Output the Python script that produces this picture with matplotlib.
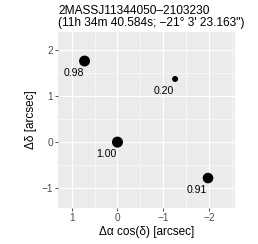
import numpy as np
import matplotlib
matplotlib.use('Agg')
import matplotlib.pyplot as plt
from matplotlib.ticker import MultipleLocator, FixedLocator

# offsets relative to the target, arcsec
dra = [0.72, 0.0, -1.26, -1.98]
ddec = [1.76, 0.0, 1.37, -0.78]
prob = [0.98, 1.00, 0.20, 0.91]
labels = ['0.98', '1.00', '0.20', '0.91']

title = '2MASSJ11344050\u20132103230\n(11h 34m 40.584s; \u221221\u00b0 3\' 23.163")'

plt.rcParams['font.family'] = ['Liberation Sans', 'DejaVu Sans']

fig = plt.figure(figsize=(2.58, 2.44), dpi=100)
ax = fig.add_axes([58/258, 36/244, 177/258, 176/244])
ax.set_facecolor('#EBEBEB')

# point size grows with probability
sizes = [7.5 + 55.5*p for p in prob]
ax.scatter(dra, ddec, s=sizes, color='black', zorder=3, linewidths=0)
for x, y, t in zip(dra, ddec, labels):
    ax.annotate(t, (x, y), xytext=(-8, -8.3), textcoords='offset points',
                ha='center', va='center', fontsize=7.6, color='black', zorder=4)

ax.set_xlim(1.30, -2.57)
ax.set_ylim(-1.43, 2.39)
ax.xaxis.set_major_locator(FixedLocator([1, 0, -1, -2]))
ax.yaxis.set_major_locator(FixedLocator([-1, 0, 1, 2]))
ax.xaxis.set_minor_locator(FixedLocator([0.5, -0.5, -1.5, -2.5]))
ax.yaxis.set_minor_locator(FixedLocator([-0.5, 0.5, 1.5]))
ax.set_xticklabels(['1', '0', '\u22121', '\u22122'])
ax.set_yticklabels(['\u22121', '0', '1', '2'])
ax.grid(which='major', color='white', linewidth=0.8)
ax.grid(which='minor', color='white', linewidth=0.4)
ax.set_axisbelow(True)
for s in ax.spines.values():
    s.set_visible(False)
ax.tick_params(which='major', length=2.0, width=0.6, color='#333333',
               labelsize=7.3, labelcolor='#4D4D4D', pad=1.5)
ax.tick_params(which='minor', length=0)

ax.set_xlabel('\u0394\u03b1 cos(\u03b4) [arcsec]', fontsize=8.5, labelpad=2)
ax.set_ylabel('\u0394\u03b4 [arcsec]', fontsize=8.5, labelpad=3)
ax.set_title(title, loc='left', fontsize=8.6, pad=4, linespacing=1.05)

fig.savefig('out.png', dpi=100)
